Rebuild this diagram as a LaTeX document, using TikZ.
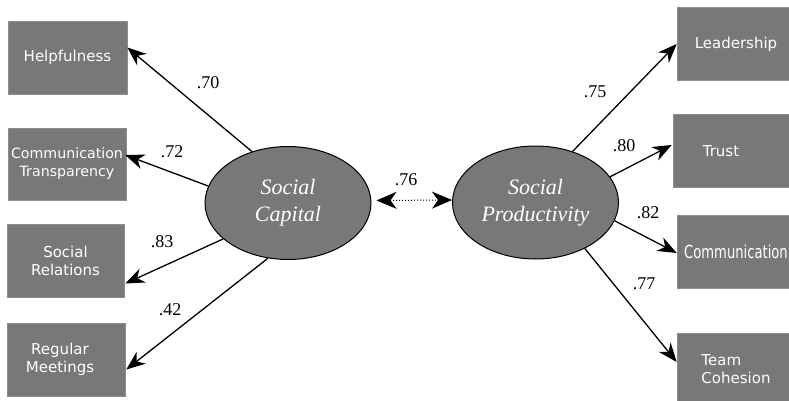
\documentclass[tikz,border=0pt]{standalone}
\usepackage{fontspec}
\setmainfont{Liberation Serif}
\newfontfamily\boxfont{DejaVu Sans}
\usetikzlibrary{arrows.meta,calc,shapes.geometric}
\definecolor{boxgray}{RGB}{120,120,120}
\begin{document}
\begin{tikzpicture}[x=1pt,y=-1pt,
  ind/.style={rectangle, fill=boxgray, draw=boxgray!85!white, line width=0.6pt,
    minimum width=118pt, minimum height=73pt, text=white,
    font=\boxfont\fontsize{15}{18}\selectfont, align=center, inner sep=0pt},
  lat/.style={ellipse, fill=boxgray, draw=black, line width=1pt,
    minimum width=166pt, minimum height=113pt, text=white,
    font=\itshape\fontsize{22}{27}\selectfont, align=center, inner sep=0pt},
  loadarrow/.style={-{Stealth[length=19pt,width=15pt,inset=6pt]}, line width=1.3pt},
  coef/.style={font=\fontsize{18}{20}\selectfont, inner sep=0pt}]
\useasboundingbox (0,0) rectangle (789,401);
\clip (0,0) rectangle (789,401);

% latent variables
\node[lat] (SC) at (288,203) {Social\\Capital};
\node[lat] (SP) at (535.5,202.5) {Social\\Productivity};

% indicators left
\node[ind, minimum width=119pt] (Help) at (67.5,57.5) {Helpfulness};
\node[ind, minimum height=72pt, font=\boxfont\fontsize{14.2}{18}\selectfont] (CT) at (67,164) {Communication\\Transparency};
\node[ind, minimum width=117pt] (SR) at (65.5,260.5) {Social\\Relations};
\node[ind] (RM) at (66,359.5) {\hspace*{-12pt}Regular\\\hspace*{-12pt}Meetings};

% indicators right
\node[ind] (LD) at (736,44) {Leadership};
\node[ind] (TR) at (732,151) {\hspace*{-22pt}Trust};
\node[ind, font=\boxfont\fontsize{18}{20}\selectfont] (CM) at (736,252) {\scalebox{0.73}[1]{Communication}};
\node[ind, align=left] (TC) at (736,369.5) {Team\\Cohesion};

% loadings
\draw[loadarrow] (SC.125) -- ($(Help.east)+(0,-10)$);
\draw[loadarrow] (SC.168) -- ($(CT.east)+(-1,-9)$);
\draw[loadarrow] (SC.209) -- ($(SR.east)+(1,23)$);
\draw[loadarrow] (SC.250) -- ($(RM.east)+(1,10)$);

\draw[loadarrow] (SP.54) -- (LD.west);
\draw[loadarrow] (SP.19) -- ($(TR.west)+(-1,-6)$);
\draw[loadarrow] (SP.-13) -- ($(CM.west)+(0,1)$);
\draw[loadarrow] (SP.-43) -- ($(TC.west)+(0,-7.5)$);

% correlation
\draw[dotted, line width=1pt,
  {Stealth[length=20pt,width=17pt,inset=6pt]}-{Stealth[length=20pt,width=17pt,inset=6pt]},
  shorten <=5pt] ($(SC.east)+(0,-2.5)$) -- ($(SP.west)+(0,-2.5)$);

% coefficients
\node[coef] (c70) at (208,83) {.70};
\node[coef] (c72) at (172,152) {.72};
\node[coef] (c83) at (162,242) {.83};
\node[coef] (c42) at (170,310) {.42};
\node[coef] (c75) at (595,92) {.75};
\node[coef] (c80) at (624,146) {.80};
\node[coef] (c82) at (648,213) {.82};
\node[coef] (c77) at (644,284) {.77};
\node[coef] (c76) at (406,180) {.76};
\end{tikzpicture}
\end{document}
